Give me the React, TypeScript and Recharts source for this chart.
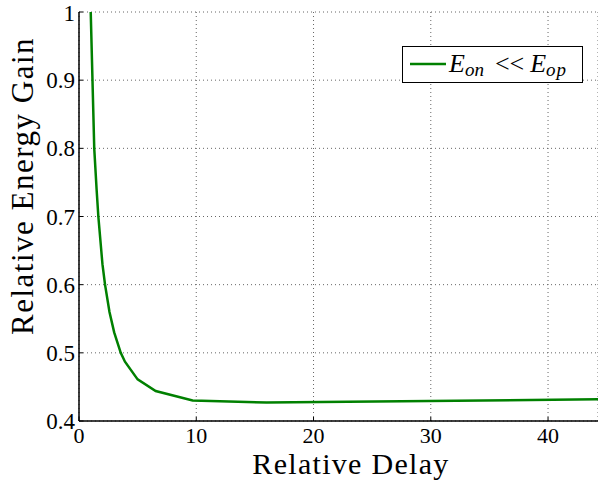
import React from 'react';
import { LineChart, Line, XAxis, YAxis, CartesianGrid, Legend, Label } from 'recharts';

const delays = [1.0, 1.3, 1.5, 1.65, 2.0, 2.22, 2.6, 3.0, 3.56, 3.92, 5.0, 6.54, 9.69, 16.0, 45.0];
const gains = [1.0, 0.8, 0.74, 0.7, 0.63, 0.6, 0.56, 0.53, 0.5, 0.487, 0.461, 0.444, 0.43, 0.427, 0.432];
const xTicks = [0, 10, 20, 30, 40];
const yTicks = [0.4, 0.5, 0.6, 0.7, 0.8, 0.9, 1];
const xLabel = 'Relative Delay';
const yLabel = 'Relative Energy Gain';

const data = delays.map((d, i) => ({ delay: d, gain: gains[i] }));

const SERIF = 'Liberation Serif, DejaVu Serif, serif';
const GREEN = '#008000';

const LegendBox = () => (
  <div
    style={{
      width: 179,
      height: 35,
      border: '1.3px solid #000',
      background: '#fff',
      boxSizing: 'content-box',
    }}
  >
    <svg width={179} height={35} style={{ display: 'block' }}>
      <line x1={7} x2={43} y1={17} y2={17} stroke={GREEN} strokeWidth={2.5} />
      <text x={46} y={25} style={{ fontFamily: SERIF, fontSize: 26 }} fill="#000">
        <tspan fontStyle="italic">E</tspan>
        <tspan fontStyle="italic" style={{ fontSize: 19 }} dy={4}>on</tspan>
        <tspan dy={-4} dx={11}>{'<<'}</tspan>
        <tspan dx={6} fontStyle="italic">E</tspan>
        <tspan fontStyle="italic" style={{ fontSize: 19 }} dy={4} letterSpacing={1}>op</tspan>
      </text>
    </svg>
  </div>
);

export default function App() {
  return (
    <div
      style={{
        position: 'fixed',
        left: 0,
        top: 0,
        width: 598,
        height: 481,
        overflow: 'hidden',
        background: '#fff',
        fontFamily: SERIF,
      }}
    >
      <LineChart
        width={598}
        height={481}
        data={data}
        margin={{ top: 12, right: 0, left: 0, bottom: 0 }}
        style={{ fontFamily: SERIF }}
      >
        <CartesianGrid stroke="#666" strokeDasharray="1 3" strokeWidth={1} />
        <XAxis
          dataKey="delay"
          type="number"
          domain={[0, 44.26]}
          allowDataOverflow
          ticks={xTicks}
          height={60}
          axisLine={{ stroke: '#000', strokeWidth: 1.5 }}
          tickLine={{ stroke: '#000', strokeWidth: 1 }}
          tickSize={-4}
          tickMargin={10}
          tick={{ fill: '#000', fontSize: 22, style: { fontFamily: SERIF } }}
          label={
            <Label
              content={() => (
                <text
                  x={351}
                  y={474}
                  textAnchor="middle"
                  style={{ fontFamily: SERIF, fontSize: 30, letterSpacing: 1.3 }}
                  fill="#000"
                >
                  {xLabel}
                </text>
              )}
            />
          }
        />
        <XAxis
          xAxisId="top"
          orientation="top"
          dataKey="delay"
          type="number"
          domain={[0, 44.26]}
          allowDataOverflow
          ticks={xTicks}
          height={0}
          axisLine={{ stroke: '#000', strokeWidth: 1.5 }}
          tickLine={{ stroke: '#000', strokeWidth: 1 }}
          tickSize={-4}
          tick={false}
        />
        <YAxis
          type="number"
          domain={[0.4, 1]}
          allowDataOverflow
          ticks={yTicks}
          width={79}
          axisLine={{ stroke: '#000', strokeWidth: 1.5 }}
          tickLine={{ stroke: '#000', strokeWidth: 1 }}
          tickSize={-4}
          tickMargin={8}
          tickFormatter={(v: number) => (v === 1 ? '1' : v.toFixed(1))}
          tick={{ fill: '#000', fontSize: 23, style: { fontFamily: SERIF } }}
          label={
            <Label
              content={() => (
                <text
                  x={33}
                  y={186}
                  textAnchor="middle"
                  transform="rotate(-90, 33, 186)"
                  style={{ fontFamily: SERIF, fontSize: 31, letterSpacing: 1.5 }}
                  fill="#000"
                >
                  {yLabel}
                </text>
              )}
            />
          }
        />
        <Legend
          layout="horizontal"
          verticalAlign="middle"
          align="center"
          content={() => <LegendBox />}
          wrapperStyle={{ left: 402, top: 46, width: 'auto', height: 'auto' }}
        />
        <Line
          dataKey="gain"
          name="E_on << E_op"
          stroke={GREEN}
          strokeWidth={2.5}
          dot={false}
          type="linear"
          isAnimationActive={false}
        />
      </LineChart>
    </div>
  );
}
